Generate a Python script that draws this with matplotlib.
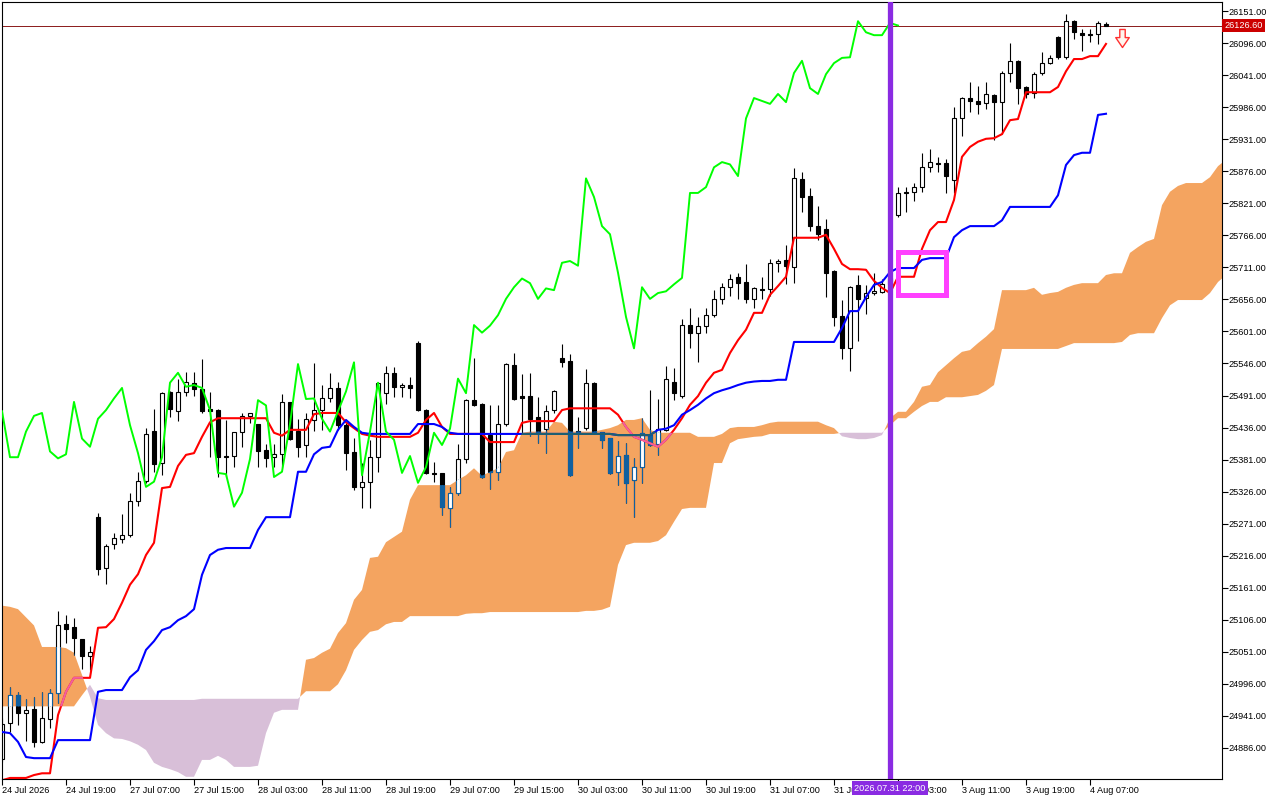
import matplotlib
matplotlib.use("Agg")
import matplotlib.pyplot as plt
import numpy as np
from matplotlib.path import Path
from matplotlib.patches import Rectangle
from matplotlib.transforms import blended_transform_factory

# hourly candles, bar 0 = 24 Jul 2026
opens = [
    24867, 24929, 24976, 24946, 24953, 24896, 24936, 24980, 25098, 25093,
    25073, 25044, 25282, 25194, 25236, 25245, 25251, 25310, 25344, 25430,
    25375, 25497, 25464, 25497, 25513, 25503, 25468, 25466, 25387, 25387,
    25429, 25456, 25442, 25397, 25385, 25390, 25480, 25430, 25406, 25449,
    25466, 25486, 25504, 25440, 25394, 25334, 25343, 25385, 25495, 25530,
    25506, 25509, 25581, 25466, 25358, 25358, 25298, 25324, 25382, 25483,
    25476, 25423, 25360, 25442, 25543, 25490, 25491, 25454, 25434, 25466,
    25555, 25550, 25430, 25435, 25513, 25429, 25418, 25360, 25389, 25346,
    25368, 25423, 25408, 25432, 25515, 25491, 25612, 25599, 25611, 25629,
    25657, 25677, 25695, 25686, 25657, 25674, 25674, 25719, 25724, 25712,
    25863, 25834, 25783, 25777, 25705, 25628, 25572, 25680, 25658, 25667,
    25669, 25682, 25801, 25841, 25841, 25849, 25883, 25890, 25890, 25861,
    25967, 26002, 25997, 25994, 26007, 25995, 26045, 26066, 26021, 26011,
    26045, 26062, 26107, 26072, 26134, 26114, 26112, 26112, 26129]
highs = [
    24937, 24990, 24982, 24970, 24973, 24982, 24987, 25121, 25114, 25109,
    25073, 25061, 25289, 25236, 25255, 25287, 25324, 25360, 25435, 25468,
    25497, 25498, 25520, 25532, 25532, 25554, 25497, 25468, 25449, 25429,
    25461, 25461, 25442, 25408, 25408, 25493, 25480, 25451, 25461, 25547,
    25509, 25530, 25515, 25444, 25418, 25375, 25415, 25515, 25542, 25540,
    25513, 25523, 25584, 25468, 25377, 25358, 25334, 25408, 25485, 25555,
    25478, 25474, 25474, 25547, 25564, 25528, 25530, 25488, 25474, 25500,
    25579, 25562, 25454, 25537, 25515, 25429, 25418, 25412, 25410, 25383,
    25452, 25500, 25485, 25542, 25538, 25623, 25641, 25626, 25641, 25672,
    25684, 25700, 25702, 25717, 25677, 25695, 25726, 25726, 25749, 25882,
    25875, 25847, 25817, 25795, 25707, 25655, 25679, 25698, 25680, 25702,
    25692, 25707, 25849, 25849, 25856, 25908, 25914, 25901, 25897, 25986,
    26004, 26029, 26023, 26029, 26009, 26048, 26097, 26067, 26023, 26047,
    26081, 26076, 26109, 26146, 26136, 26121, 26121, 26134, 26133]
lows = [
    24862, 24913, 24925, 24897, 24887, 24894, 24920, 24963, 25066, 25045,
    25022, 25019, 25182, 25167, 25228, 25238, 25248, 25302, 25341, 25360,
    25354, 25454, 25447, 25490, 25491, 25461, 25385, 25351, 25351, 25368,
    25403, 25444, 25368, 25368, 25368, 25368, 25415, 25385, 25385, 25430,
    25432, 25480, 25432, 25363, 25329, 25298, 25298, 25360, 25476, 25488,
    25488, 25486, 25464, 25356, 25343, 25286, 25265, 25320, 25375, 25473,
    25349, 25331, 25346, 25439, 25483, 25427, 25422, 25410, 25392, 25461,
    25540, 25352, 25401, 25432, 25427, 25401, 25356, 25337, 25307, 25282,
    25341, 25405, 25389, 25430, 25483, 25486, 25572, 25549, 25599, 25626,
    25648, 25662, 25657, 25650, 25641, 25657, 25662, 25704, 25682, 25684,
    25807, 25773, 25758, 25660, 25611, 25554, 25533, 25584, 25631, 25663,
    25667, 25672, 25798, 25807, 25825, 25841, 25875, 25875, 25839, 25839,
    25937, 25978, 25974, 25983, 25930, 25940, 26029, 25992, 26002, 26002,
    26041, 26060, 26069, 26069, 26103, 26083, 26098, 26095, 26126]
closes = [
    24927, 24976, 24946, 24951, 24896, 24937, 24980, 25096, 25090, 25074,
    25044, 25051, 25193, 25233, 25246, 25251, 25309, 25344, 25425, 25373,
    25495, 25468, 25497, 25515, 25503, 25464, 25464, 25385, 25385, 25429,
    25456, 25461, 25395, 25383, 25390, 25480, 25417, 25403, 25451, 25466,
    25486, 25504, 25440, 25392, 25334, 25343, 25385, 25513, 25530, 25506,
    25509, 25504, 25466, 25358, 25356, 25300, 25324, 25382, 25483, 25474,
    25351, 25360, 25442, 25545, 25485, 25486, 25451, 25429, 25464, 25498,
    25548, 25354, 25429, 25513, 25429, 25415, 25358, 25387, 25341, 25368,
    25427, 25406, 25434, 25520, 25495, 25612, 25599, 25611, 25629, 25657,
    25677, 25692, 25684, 25657, 25675, 25672, 25719, 25722, 25714, 25864,
    25832, 25782, 25768, 25702, 25626, 25572, 25677, 25657, 25667, 25670,
    25682, 25693, 25839, 25839, 25849, 25883, 25892, 25888, 25868, 25967,
    26002, 25997, 25992, 26009, 25995, 26045, 26066, 26019, 26009, 26043,
    26062, 26071, 26072, 26134, 26115, 26110, 26110, 26131, 26126.6]

tenkan = [
    24830, 24834, 24834, 24834, 24839, 24842, 24842, 24942, 24982, 25006,
    25006, 25006, 25092, 25093, 25107, 25135, 25166, 25184, 25217, 25238,
    25332, 25334, 25370, 25389, 25392, 25420, 25445, 25452, 25452, 25452,
    25452, 25452, 25452, 25452, 25427, 25422, 25432, 25432, 25432, 25459,
    25461, 25461, 25461, 25445, 25435, 25425, 25422, 25420, 25420, 25420,
    25420, 25420, 25427, 25449, 25461, 25437, 25425, 25425, 25425, 25425,
    25425, 25411, 25411, 25411, 25411, 25444, 25447, 25447, 25447, 25447,
    25466, 25469, 25469, 25469, 25469, 25469, 25469, 25458, 25437, 25420,
    25415, 25409, 25403, 25415, 25432, 25452, 25475, 25490, 25513, 25530,
    25535, 25564, 25586, 25604, 25633, 25633, 25664, 25679, 25695, 25762,
    25762, 25762, 25762, 25767, 25743, 25717, 25708, 25708, 25707, 25688,
    25676, 25667, 25695, 25695, 25695, 25743, 25775, 25789, 25789, 25827,
    25901, 25918, 25927, 25932, 25933, 25940, 25964, 25966, 26012, 26012,
    26012, 26012, 26021, 26048, 26069, 26069, 26074, 26074, 26095]
kijun = [
    24913, 24911, 24896, 24870, 24868, 24868, 24868, 24899, 24899, 24899,
    24899, 24899, 24982, 24985, 24985, 24985, 25007, 25019, 25054, 25069,
    25088, 25093, 25105, 25112, 25124, 25183, 25217, 25226, 25229, 25229,
    25229, 25229, 25260, 25282, 25282, 25282, 25282, 25360, 25360, 25390,
    25401, 25403, 25432, 25449, 25437, 25427, 25425, 25425, 25425, 25425,
    25425, 25425, 25442, 25442, 25442, 25437, 25427, 25425, 25425, 25425,
    25425, 25425, 25425, 25425, 25425, 25425, 25425, 25425, 25425, 25425,
    25425, 25425, 25425, 25425, 25425, 25425, 25425, 25423, 25423, 25423,
    25423, 25423, 25432, 25434, 25440, 25458, 25466, 25475, 25486, 25495,
    25500, 25504, 25509, 25513, 25515, 25516, 25516, 25518, 25518, 25583,
    25583, 25583, 25583, 25583, 25583, 25607, 25636, 25636, 25660, 25681,
    25686, 25703, 25710, 25710, 25710, 25724, 25727, 25727, 25727, 25763,
    25775, 25782, 25782, 25782, 25782, 25792, 25815, 25815, 25815, 25815,
    25815, 25815, 25835, 25887, 25904, 25908, 25908, 25973, 25975]

# senkou spans, already shifted 26 bars ahead
span_a = [
    25130, 25128, 25124, 25110, 25096, 25059, 25059, 25059, 25057, 25049,
    25011, 24973, 24925, 24911, 24902, 24901, 24897, 24891, 24882, 24860,
    24853, 24849, 24844, 24836, 24836, 24865, 24865, 24872, 24865, 24853,
    24853, 24853, 24855, 24911, 24946, 24951, 24951, 24951, 25037, 25040,
    25049, 25056, 25083, 25100, 25140, 25157, 25212, 25214, 25239, 25248,
    25257, 25312, 25337, 25337, 25337, 25337, 25337, 25346, 25354, 25366,
    25353, 25360, 25366, 25394, 25397, 25427, 25429, 25429, 25429, 25446,
    25444, 25429, 25429, 25429, 25429, 25432, 25435, 25440, 25449, 25449,
    25452, 25432, 25427, 25427, 25427, 25427, 25427, 25420, 25420, 25420,
    25425, 25435, 25437, 25437, 25437, 25440, 25444, 25446, 25446, 25446,
    25446, 25446, 25446, 25440, 25435, 25421, 25418, 25416, 25416, 25418,
    25423, 25452, 25463, 25463, 25480, 25506, 25509, 25531, 25543, 25555,
    25566, 25569, 25581, 25592, 25605, 25672, 25672, 25672, 25672, 25676,
    25664, 25667, 25669, 25676, 25681, 25684, 25684, 25684, 25698, 25701,
    25701, 25736, 25746, 25755, 25760, 25818, 25841, 25851, 25856, 25856,
    25856, 25866, 25885, 25896]
span_b = [
    24957, 24957, 24957, 24957, 24957, 24957, 24957, 24957, 24957, 24957,
    24976, 24994, 24971, 24968, 24968, 24968, 24968, 24968, 24968, 24968,
    24968, 24968, 24968, 24968, 24968, 24970, 24970, 24970, 24970, 24970,
    24970, 24970, 24970, 24970, 24970, 24970, 24970, 24970, 24983, 24983,
    24983, 24983, 24995, 25019, 25054, 25071, 25085, 25088, 25098, 25102,
    25102, 25112, 25112, 25112, 25112, 25112, 25112, 25112, 25116, 25117,
    25117, 25119, 25119, 25119, 25119, 25119, 25119, 25119, 25119, 25119,
    25119, 25119, 25119, 25121, 25121, 25123, 25128, 25200, 25234, 25238,
    25238, 25238, 25241, 25251, 25274, 25296, 25298, 25298, 25298, 25375,
    25375, 25409, 25416, 25418, 25420, 25421, 25425, 25425, 25425, 25425,
    25425, 25425, 25425, 25425, 25425, 25427, 25427, 25427, 25427, 25427,
    25427, 25440, 25452, 25452, 25463, 25473, 25480, 25480, 25488, 25488,
    25488, 25490, 25492, 25499, 25509, 25571, 25571, 25571, 25571, 25571,
    25571, 25571, 25571, 25576, 25581, 25581, 25581, 25581, 25581, 25581,
    25583, 25595, 25598, 25598, 25598, 25624, 25646, 25655, 25655, 25655,
    25655, 25667, 25686, 25698]

tick_bars = [0, 8, 16, 24, 32, 40, 48, 56, 64, 72, 80, 88, 96, 104, 112, 120, 128, 136]
tick_labels = ["24 Jul 2026", "24 Jul 19:00", "27 Jul 07:00", "27 Jul 15:00",
               "28 Jul 03:00", "28 Jul 11:00", "28 Jul 19:00", "29 Jul 07:00",
               "29 Jul 15:00", "30 Jul 03:00", "30 Jul 11:00", "30 Jul 19:00",
               "31 Jul 07:00", "31 Jul 15:00", "3 Aug 03:00", "3 Aug 11:00",
               "3 Aug 19:00", "4 Aug 07:00"]
price_ticks = np.arange(24886, 26152, 55)

vline_bar = 111
vline_label = "2026.07.31 22:00"
box_bars = (112, 118)
box_prices = (25664, 25738)
signal_bar = 140
signal_price = 26105

plt.rcParams['font.family'] = ['Liberation Sans', 'DejaVu Sans']

fig = plt.figure(figsize=(12.8, 8), dpi=100)
ax = fig.add_axes([2 / 1280, 21 / 800, 1220 / 1280, 777 / 800])
ax.set_xlim(0, 152.5)
ax.set_ylim(24832.2, 26167.0)

x = np.arange(len(closes))
xs = np.arange(len(span_a))
a = np.array(span_a, float)
b = np.array(span_b, float)

# cloud
orange = ax.fill_between(xs, a, b, where=a >= b, interpolate=True,
                         color='#f4a460', lw=0, zorder=1)
ax.fill_between(xs, a, b, where=a < b, interpolate=True,
                color='#d8bfd8', lw=0, zorder=1)
cloud = Path.make_compound_path(*orange.get_paths())

ax.axhline(closes[-1], color='#8b1a1a', lw=0.7, zorder=1.5)

o = np.array(opens, float)
h = np.array(highs, float)
l = np.array(lows, float)
c = np.array(closes, float)
up = c >= o
lo = np.minimum(o, c)
hh = np.abs(c - o)


def candles(edge, bear, z, clip=None):
    wick = ax.vlines(x, l, h, color=edge, lw=0.8, zorder=z)
    faces = ['white' if u else bear for u in up]
    bars = ax.bar(x, hh, bottom=lo, width=0.62, color=faces,
                  edgecolor=edge, linewidth=0.8, zorder=z + 0.1)
    if clip is not None:
        wick.set_clip_path(clip, ax.transData)
        for r in bars.patches:
            r.set_clip_path(clip, ax.transData)


candles('black', 'black', 2)
candles('#1060a0', '#1060a0', 3, cloud)

# lines
ax.plot(x, tenkan, color='#ff0000', lw=1.5, zorder=4)
ax.plot(x, kijun, color='#0000ff', lw=1.5, zorder=4)
ax.plot(x[:len(closes) - 26], closes[26:], color='#00ff00', lw=1.4, zorder=4)
t2, = ax.plot(x, tenkan, color='#f0609f', lw=1.5, zorder=5)
t2.set_clip_path(cloud, ax.transData)
k2, = ax.plot(x, kijun, color='#1f6070', lw=1.5, zorder=5)
k2.set_clip_path(cloud, ax.transData)

ax.axvline(vline_bar, color='#8a2be2', lw=3.8, zorder=6)
ax.add_patch(Rectangle((box_bars[0], box_prices[0]), box_bars[1] - box_bars[0],
                       box_prices[1] - box_prices[0], fill=False,
                       ec='#ff40ff', lw=3.6, zorder=7))

arrow = Path([(-0.3, 1), (0.3, 1), (0.3, 0.1), (0.75, 0.1), (0, -1),
              (-0.75, 0.1), (-0.3, 0.1), (-0.3, 1)],
             [Path.MOVETO] + [Path.LINETO] * 6 + [Path.CLOSEPOLY])
ax.plot([signal_bar], [signal_price], marker=arrow, ms=13, mfc='#fff5ee',
        mec='#ff3030', mew=1.0, zorder=8, clip_on=False)

# axes styling
for s in ax.spines.values():
    s.set_color('black')
    s.set_linewidth(0.8)
ax.yaxis.tick_right()
ax.set_yticks(price_ticks)
ax.set_yticklabels([f"{v:.2f}" for v in price_ticks])
ax.tick_params(axis='y', direction='out', length=4, width=0.8, pad=1,
               labelsize=6.6, colors='black')
ax.set_xticks(tick_bars)
ax.set_xticklabels(tick_labels)
ax.tick_params(axis='x', direction='out', length=4, width=0.8, pad=1,
               labelsize=6.6, colors='black')
for lab in ax.get_xticklabels():
    lab.set_horizontalalignment('left')

ty = blended_transform_factory(ax.transAxes, ax.transData)
ax.text(1.002, closes[-1], f"{closes[-1]:.2f}", transform=ty, ha='left',
        va='center', color='white', fontsize=6.6, zorder=10, clip_on=False,
        bbox=dict(boxstyle='square,pad=0.25', fc='#cc0000', ec='none'))
tx = blended_transform_factory(ax.transData, ax.transAxes)
ax.text(vline_bar, -0.006, vline_label, transform=tx, ha='center', va='top',
        color='white', fontsize=6.6, zorder=10, clip_on=False,
        bbox=dict(boxstyle='square,pad=0.25', fc='#8a2be2', ec='none'))

fig.savefig('out.png', dpi=100)
